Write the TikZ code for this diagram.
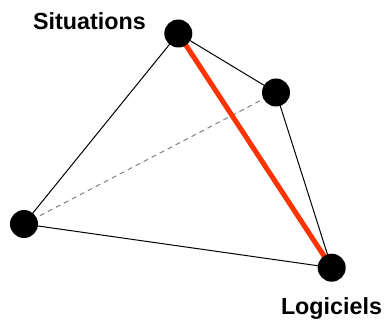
\documentclass[tikz,border=0pt]{standalone}
\usepackage{fontspec}
\setmainfont{Liberation Sans}
\begin{document}
\begin{tikzpicture}[x=1pt,y=-1pt,
  vertex/.style={circle,fill=black,inner sep=0pt,minimum size=28pt},
  edge/.style={line width=1pt,black},
  hidden/.style={line width=1pt,gray,dash pattern=on 5pt off 4pt},
  redge/.style={line width=5pt,color={rgb,255:red,255;green,51;blue,0}},
  lbl/.style={font=\fontsize{23.3}{26}\selectfont\bfseries,anchor=base,inner sep=0pt}]
\useasboundingbox (0,0) rectangle (386,323);
\coordinate (S) at (178.3,33.5);
\coordinate (R) at (276,92.5);
\coordinate (L) at (24,224);
\coordinate (B) at (331.7,267.7);
\draw[hidden] (L) -- (R);
\draw[edge] (S) -- (L);
\draw[edge] (S) -- (R);
\draw[edge] (R) -- (B);
\draw[edge] (L) -- (B);
\draw[redge] (S) -- (B);
\node[vertex] (s) at (S) {};
\node[vertex] (r) at (R) {};
\node[vertex] (l) at (L) {};
\node[vertex] (b) at (B) {};
\node[lbl] (ts) at (89.5,29.3) {Situations};
\node[lbl] (tl) at (331.5,315) {Logiciels};
\end{tikzpicture}
\end{document}
